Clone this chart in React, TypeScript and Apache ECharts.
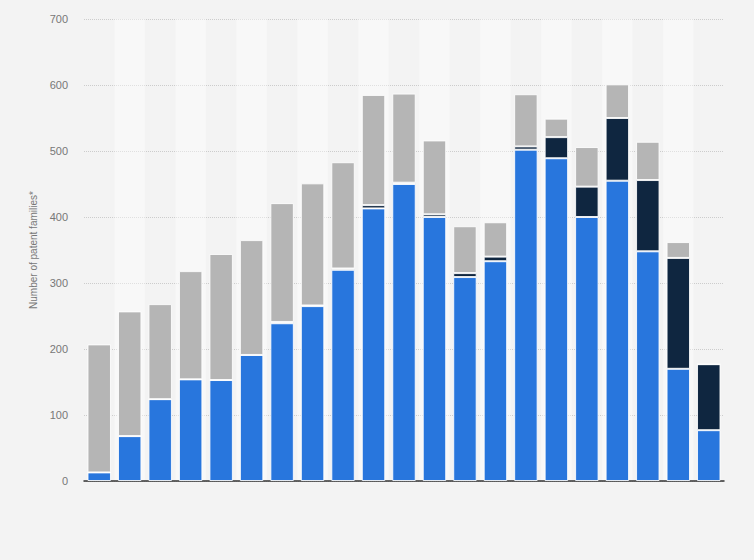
import { useEffect, useRef } from 'react';
import * as echarts from 'echarts';

const categories = ['2000', '2001', '2002', '2003', '2004', '2005', '2006', '2007', '2008', '2009', '2010', '2011', '2012', '2013', '2014', '2015', '2016', '2017', '2018', '2019', '2020'];
const blueValues = [13, 68, 124, 154, 153, 191, 239, 265, 320, 413, 450, 400, 309, 333, 502, 489, 400, 455, 348, 170, 77];
const navyValues = [0, 0, 0, 0, 0, 0, 2, 1, 2, 5, 2, 4, 6, 7, 5, 32, 46, 95, 108, 168, 100];
const grayValues = [194, 189, 144, 164, 191, 174, 180, 185, 161, 167, 135, 112, 71, 52, 79, 28, 60, 51, 58, 24, 0];
const yTicks = { min: 0, max: 700, interval: 100 };
const yAxisTitle = 'Number of patent families*';

export default function App() {
  const ref = useRef<HTMLDivElement>(null);
  useEffect(() => {
    document.body.style.margin = '0';
    document.body.style.background = '#f4f4f4';
    if (!ref.current) return;
    const chart = echarts.init(ref.current, null, { renderer: 'svg' });
    const barStyle = (color: string) => ({ color, borderColor: 'rgba(255,255,255,0.85)', borderWidth: 1 });
    chart.setOption({
      animation: false,
      backgroundColor: '#f3f3f3',
      grid: { left: 84, right: 30, top: 19, bottom: 79, containLabel: false },
      xAxis: {
        type: 'category',
        data: categories,
        axisLine: { show: true, lineStyle: { color: '#333333', width: 1.5 } },
        axisTick: { show: false, interval: 0 },
        axisLabel: { show: false, interval: 0 },
        splitArea: { show: true, interval: 0, areaStyle: { color: ['rgba(255,255,255,0)', 'rgba(255,255,255,0.4)'] } },
      },
      yAxis: {
        type: 'value',
        min: yTicks.min,
        max: yTicks.max,
        interval: yTicks.interval,
        name: yAxisTitle,
        nameLocation: 'middle',
        nameGap: 42,
        nameTextStyle: { color: '#777777', fontSize: 10, fontFamily: 'Liberation Sans, Arial, sans-serif' },
        axisLine: { show: false },
        axisTick: { show: false },
        axisLabel: { color: '#777777', fontSize: 11, margin: 16, fontFamily: 'Liberation Sans, Arial, sans-serif' },
        splitLine: { show: true, lineStyle: { color: '#cccccc', type: 'dotted', width: 1 } },
      },
      series: [
        { name: 'Blue', type: 'bar', stack: 'total', data: blueValues, barCategoryGap: '23%', itemStyle: barStyle('#2876dd') },
        { name: 'Navy', type: 'bar', stack: 'total', data: navyValues, itemStyle: barStyle('#0f2640') },
        { name: 'Gray', type: 'bar', stack: 'total', data: grayValues, itemStyle: barStyle('#b5b5b5') },
      ],
    });
    return () => chart.dispose();
  }, []);
  return <div ref={ref} style={{ width: 754, height: 560, background: '#f3f3f3' }} />;
}
